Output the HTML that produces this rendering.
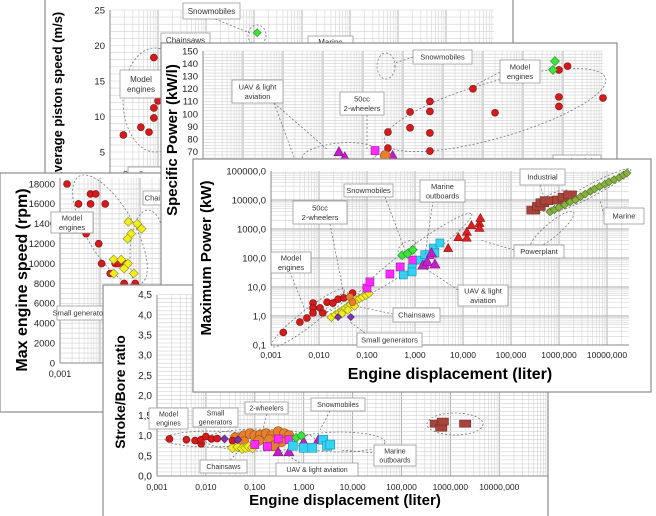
<!DOCTYPE html>
<html><head><meta charset="utf-8"><style>
html,body{margin:0;padding:0;background:#fff;}
svg{display:block;font-family:"Liberation Sans",sans-serif;}
</style></head><body>
<svg id="s" width="656" height="516" viewBox="0 0 656 516"></svg>
<script>
// ===== DATA =====
// Panel A: max average piston speed (m/s)
const A_model_x=[0.0019,0.0044,0.0065,0.0082,0.0082,0.0082,0.01];
const A_model_y=[7.4,8.5,7.8,18.3,11.2,9.8,12.2];
const A_snow_x=[1.16];
const A_snow_y=[21.8];
const A_yticks=[5,10,15,20,25];
// Panel B: specific power (kW/l)
const B_model_x=[42,42,150,150,470,470,470,470,5600,20000,790000,1300000,790000,790000,10000000];
const B_model_y=[85.7,73,101.6,89,110,102,85,70.6,120,101,135,138,113.5,106,112.7];
const B_snow_x=[630000,560000];
const B_snow_y=[142,135];
const B_uav_x=[2.5,3.5,55];
const B_uav_y=[70,66,67];
const B_sq_x=[20];
const B_sq_y=[71];
const B_orange_x=[36];
const B_orange_y=[67];
const B_yticks=[70,80,90,100,110,120,130,140,150];
// Panel C: max engine speed (rpm)
const C_model_x=[0.0015,0.0029,0.0058,0.0078,0.0058,0.0135,0.0045,0.0093,0.011,0.024,0.029,0.043,0.018,0.04,0.076];
const C_model_y=[18000,16000,17000,17000,16000,16000,13000,12000,10000,10000,10000,10000,9000,8000,8000];
const C_saw_x=[0.051,0.085,0.06,0.049,0.11,0.022,0.034,0.05,0.07,0.022,0.04];
const C_saw_y=[14200,14000,13000,12500,13500,10400,10400,10000,9000,9000,9500];
const C_yticks=[0,2000,4000,6000,8000,10000,12000,14000,16000,18000];
const C_ylabels=["0","2000","4000","6000","8000","10000","12000","1400","16000","18000"];
// Panel D: stroke/bore ratio
const D_model_x=[0.0018,0.004,0.006,0.008,0.008,0.01,0.013,0.017,0.035];
const D_model_y=[0.92,0.9,0.88,0.8,0.9,0.98,0.92,0.93,0.88];
const D_gen_x=[0.024,0.045];
const D_gen_y=[0.92,0.9];
const D_orange_x=[0.04,0.06,0.08,0.1,0.13,0.17,0.22,0.3,0.4,0.5,0.06,0.12,0.2,0.35,0.25];
const D_orange_y=[0.95,1.0,1.05,1.0,1.02,1.05,1.0,1.1,1.05,1.0,0.85,0.88,0.9,0.85,0.75];
const D_saw_x=[0.035,0.045,0.055,0.065,0.075,0.09];
const D_saw_y=[0.7,0.72,0.68,0.7,0.73,0.7];
const D_sq_x=[0.1,0.18,0.3,0.5];
const D_sq_y=[0.78,0.73,0.92,0.9];
const D_uav_x=[0.3,0.5,1,2];
const D_uav_y=[0.6,0.6,0.85,0.9];
const D_cyan_x=[0.6,1,1.5,2.5,3,3.5];
const D_cyan_y=[0.75,0.7,0.7,0.9,0.75,0.78];
const D_snow_x=[0.7,0.9];
const D_snow_y=[0.95,1.0];
const D_ind_x=[500,650,700,2000];
const D_ind_y=[1.3,1.2,1.35,1.3];
const D_yticks=[0,0.5,1,1.5,2,2.5,3,3.5,4,4.5];
const D_ylabels=["0,0","0,5","1,0","1,5","2,0","2,5","3,0","3,5","4,0","4,5"];
// Panel E: maximum power (kW)
const E_model_x=[0.0018,0.004,0.0056,0.0075,0.0075,0.0075,0.0105,0.012,0.0147,0.0195,0.025,0.033,0.05];
const E_model_y=[0.27,0.62,0.85,2.8,1.9,1.27,1.9,1.27,3,2.8,3.8,4.2,6.2];
const E_saw_x=[0.018,0.022,0.026,0.03,0.035,0.04,0.045,0.05,0.06,0.07,0.08,0.095,0.11,0.03,0.04,0.055];
const E_saw_y=[0.9,1.1,1.3,1.5,1.8,2.2,2.5,3,3.5,4,4.5,5.2,6,1.2,1.6,2.2];
const E_gen_x=[0.025,0.046];
const E_gen_y=[0.92,0.92];
const E_orange_x=[0.044,0.05];
const E_orange_y=[4.5,3];
const E_sq_x=[0.1,0.115,0.3,0.49,0.9,2,1.6];
const E_sq_y=[9.2,15,28,49,85,130,60];
const E_cyan_x=[0.57,0.87,1.3,1.6,2.4,3.3,0.87,2.6];
const E_cyan_y=[26,45,85,130,220,330,33,150];
const E_uav_x=[1.45,1.8,2.2,2.6];
const E_uav_y=[57,75,150,62];
const E_snow_x=[0.54,0.7,0.9];
const E_snow_y=[125,140,190];
const E_pp_x=[4.9,8,12,12,15,22,22,23];
const E_pp_y=[220,520,800,500,1350,1600,1100,2400];
const E_ind_x=[290,380,450,550,1000,1300,1700];
const E_ind_y=[4500,6000,8000,9500,10000,12500,15000];
const E_mar_x=[650,800,1000,1300,1700,2200,2800,3500,4500,5500,7000,9000,11000,14000,18000,22000,26000];
const E_mar_y=[3900,4600,5500,6800,8500,10000,13000,16000,20000,24000,29000,35000,42000,50000,60000,72000,85000];
const E_yticks=[0.1,1,10,100,1000,10000,100000];
const E_ylabels=["0,1","1,0","10,0","100,0","1000,0","10000,0","100000,0"];
const X_ticks=[0.001,0.01,0.1,1,10,100,1000,10000];
const X_labels=["0,001","0,010","0,100","1,000","10,000","100,000","1000,000","10000,000"];

// ===== HELPERS =====
const NS='http://www.w3.org/2000/svg';
const S=document.getElementById('s');
function mk(tag,parent){const e=document.createElementNS(NS,tag);parent.appendChild(e);return e;}
function at(e,o){for(const k in o)e.setAttribute(k,o[k]);return e;}
function lx(p,v){return p.x0+(Math.log10(v)+3)*p.dx;}
function ly(p,v){return p.log?p.y0-(Math.log10(v)+1)*p.dy:p.y0-v*p.dy;}

function panel(p,name){
  const g=mk('g',S);
  
  
  const r=mk('rect',g);at(r,{x:p.rx,y:p.ry,width:p.rw,height:p.rh,fill:'#fff',stroke:'#8c8c8c','stroke-width':1.2});
  
  
  const gg=mk('g',g);
  
  
  const right=p.xr||(p.x0+p.nd*p.dx);
  for(let d=0;d<Math.ceil(p.nd);d++){for(let m=1;m<10;m++){
    const x=p.x0+(d+Math.log10(m))*p.dx;
    if(x>right+0.5)continue;
    const l=mk('line',gg);at(l,{x1:x,x2:x,y1:p.top,y2:p.bot,stroke:m==1?'#a8a8a8':'#d4d4d4','stroke-width':m==1?0.9:0.6});
    
    
  }}
  if(p.log){for(let d=0;d<6;d++){for(let m=1;m<10;m++){
      const y=p.y0-(d+Math.log10(m))*p.dy;
      const l=mk('line',gg);at(l,{x1:p.x0,x2:right,y1:y,y2:y,stroke:m==1?'#a8a8a8':'#d4d4d4','stroke-width':m==1?0.9:0.6});
      
      
  }}}
  else{for(let v=p.gmin;v<=p.gmax+1e-9;v+=p.gstep){
      const y=p.y0-v*p.dy;
      const l=mk('line',gg);at(l,{x1:p.x0,x2:right,y1:y,y2:y,stroke:'#d0d0d0','stroke-width':0.6});
      
      
  }}
  const ax=mk('line',g);at(ax,{x1:p.x0,x2:p.x0,y1:p.top,y2:p.bot,stroke:'#888','stroke-width':1});
  
  
  const bx=mk('line',g);at(bx,{x1:p.x0,x2:right,y1:p.bot,y2:p.bot,stroke:'#888','stroke-width':1});
  
  
  return g;
}
function ytick(g,p,vals,labs,fs){
  vals.forEach((v,i)=>{
    const t=mk('text',g);at(t,{x:p.x0-5,y:ly(p,v)+fs*0.35,'font-size':fs,'text-anchor':'end',fill:'#222'});
    t.textContent=labs?labs[i]:String(v);
    
    
  });
}
function xtick(g,p,n,y,fs){
  for(let i=0;i<n;i++){
    const t=mk('text',g);at(t,{x:lx(p,X_ticks[i]),y:y,'font-size':fs,'text-anchor':'middle',fill:'#222'});
    t.textContent=X_labels[i];
    
    
  }
}
function title(g,txt,x,y,fs,rot,name){
  const t=mk('text',g);at(t,{x:x,y:y,'font-size':fs,'font-weight':'bold','text-anchor':'middle',fill:'#000'});
  if(rot)t.setAttribute('transform','rotate(-90 '+x+' '+y+')');
  t.textContent=txt;
  
  
}
function box(g,x,y,w,h,lines,fs,name){
  const r=mk('rect',g);at(r,{x:x,y:y,width:w,height:h,fill:'#fff',stroke:'#999','stroke-width':0.8});
  
  
  const lh=fs*1.25,y0=y+h/2-(lines.length-1)*lh/2+fs*0.35;
  lines.forEach((s,i)=>{
    const t=mk('text',g);at(t,{x:x+w/2,y:y0+i*lh,'font-size':fs,'text-anchor':'middle',fill:'#333'});
    t.textContent=s;
    
    
  });
}
function ell(g,cx,cy,rx,ry,rot){
  const e=mk('ellipse',g);at(e,{cx:cx,cy:cy,rx:rx,ry:ry,fill:'none',stroke:'#777','stroke-width':0.8,'stroke-dasharray':'2,2',transform:'rotate('+rot+' '+cx+' '+cy+')'});
  
  
}
function lead(g,x1,y1,x2,y2){
  const l=mk('line',g);at(l,{x1:x1,y1:y1,x2:x2,y2:y2,stroke:'#666','stroke-width':0.7,'stroke-dasharray':'2,2'});
  
  
}
const ST={
 red:['circle','#d41a1a','#7a1010'],yel:['diamond','#f2ee1c','#8a8a20'],pur:['diamond','#7a35a8','#4a1a70'],
 org:['circle','#e58030','#a05010'],mag:['square','#ff2aff','#a010a0'],cya:['square','#34d2f2','#1890b0'],
 uav:['triangle','#c21fc8','#801080'],grn:['diamond','#3ee33e','#1a901a'],pp:['triangle','#e02020','#901010'],
 ind:['rect','#a8443c','#702820'],mar:['diamond','#86b040','#507020']
};
function scatter(g,p,xs,ys,st,sz,name){
  const [shape,fill,stroke]=ST[st];
  for(let i=0;i<xs.length;i++){
    const x=lx(p,xs[i]),y=ly(p,ys[i]);let e;
    if(shape=='circle'){e=mk('circle',g);at(e,{cx:x,cy:y,r:sz});}
    else if(shape=='square'){e=mk('rect',g);at(e,{x:x-sz,y:y-sz,width:2*sz,height:2*sz});}
    else if(shape=='rect'){e=mk('rect',g);at(e,{x:x-sz*1.6,y:y-sz,width:3.2*sz,height:2*sz});}
    else if(shape=='diamond'){e=mk('polygon',g);at(e,{points:[x,y-sz-1,x+sz+1,y,x,y+sz+1,x-sz-1,y].join(',')});}
    else {e=mk('polygon',g);at(e,{points:[x,y-sz-1,x+sz+1,y+sz,x-sz-1,y+sz].join(',')});}
    at(e,{fill:fill,stroke:stroke,'stroke-width':0.6});
    
    
  }
}

// ===== PANEL A =====
const PA={rx:45,ry:-1,rw:468,rh:320,x0:110,dx:48,nd:8,top:10,bot:300,y0:187.5,dy:7.1,gmin:0,gmax:25,gstep:1};
const gA=panel(PA,'piston-speed-chart');
ytick(gA,PA,A_yticks,null,9.5);
title(gA,'Max average piston speed (m/s)',62,110,13,true,'y-axis-title-piston-speed');
ell(gA,155,100,32,52,0);ell(gA,257,35,9,10,0);
lead(gA,215,19,250,33);
scatter(gA,PA,A_model_x,A_model_y,'red',3.5,'point-model-engines');
scatter(gA,PA,A_snow_x,A_snow_y,'grn',3,'point-snowmobiles');
box(gA,183,3,57,16,['Snowmobiles'],8,'label-snowmobiles');
box(gA,161,33,49,14,['Chainsaws'],8,'label-chainsaws');
box(gA,120,70,42,28,['Model','engines'],8,'label-model-engines');
box(gA,308,36,45,12,['Marine'],8,'label-marine');
box(gA,128,167,50,14,['Small generators'],8,'label-small-generators');

// ===== PANEL C =====
const PC={rx:0,ry:173,rw:210,rh:239,x0:60,dx:40,nd:5,top:178,bot:363,y0:363,dy:179/18000,gmin:0,gmax:18000,gstep:500};
const gC=panel(PC,'engine-speed-chart');
ytick(gC,PC,C_yticks,C_ylabels,9.5);
xtick(gC,PC,1,377,9);
title(gC,'Max engine speed (rpm)',27,280,16,true,'y-axis-title-engine-speed');
ell(gC,110,230,24,62,-30);ell(gC,148,255,18,45,0);
scatter(gC,PC,C_model_x,C_model_y,'red',3.5,'point-model-engines');
scatter(gC,PC,C_saw_x,C_saw_y,'yel',3.5,'point-chainsaws');
box(gC,51,212,42,21,['Model','engines'],7.5,'label-model-engines');
box(gC,57,306,48,14,['Small generators'],7.5,'label-small-generators');
box(gC,143,191,40,14,['Chainsaws'],7.5,'label-chainsaws');
box(gC,180,289,40,14,['Marine'],7.5,'label-marine');

// ===== PANEL B =====
const PB={rx:161,ry:43,rw:456,rh:280,x0:203,dx:40,nd:10,top:51,bot:320,y0:240,dy:1.26,gmin:0,gmax:150,gstep:2.5};
const gB=panel(PB,'specific-power-chart');
ytick(gB,PB,B_yticks,null,9.5);
title(gB,'Specific Power (kW/l)',177,140,15,true,'y-axis-title-specific-power');
ell(gB,495,110,115,28,-16);ell(gB,386,66,9,13,0);ell(gB,340,155,38,12,-5);
lead(gB,274,103,328,150);lead(gB,274,103,295,160);lead(gB,367,115,367,150);lead(gB,413,57,395,63);lead(gB,500,72,470,88);
scatter(gB,PB,B_model_x,B_model_y,'red',3.5,'point-model-engines');
scatter(gB,PB,B_snow_x,B_snow_y,'grn',3.5,'point-snowmobiles');
scatter(gB,PB,B_uav_x,B_uav_y,'uav',4,'point-uav');
scatter(gB,PB,B_sq_x,B_sq_y,'mag',4,'point-2-wheelers');
scatter(gB,PB,B_orange_x,B_orange_y,'org',5,'point-50cc');
box(gB,232,80,51,23,['UAV & light','aviation'],7.5,'label-uav');
box(gB,340,92,44,23,['50cc','2-wheelers'],7.5,'label-50cc');
box(gB,413,50,59,14,['Snowmobiles'],7.5,'label-snowmobiles');
box(gB,500,60,40,23,['Model','engines'],7.5,'label-model-engines');
box(gB,553,155,48,12,['Industrial'],7.5,'label-industrial');

// ===== PANEL D =====
const PD={rx:103,ry:285,rw:445,rh:240,x0:157,dx:48.9,nd:8,top:295,bot:476,y0:476,dy:40.3,gmin:0,gmax:4.5,gstep:0.1};
const gD=panel(PD,'stroke-bore-chart');
ytick(gD,PD,D_yticks,D_ylabels,10);
xtick(gD,PD,8,490,8.5);
title(gD,'Stroke/Bore ratio',125,392,14,true,'y-axis-title-stroke-bore');
title(gD,'Engine displacement (liter)',345,505,15,false,'x-axis-title-displacement');
ell(gD,210,439,45,8,0);ell(gD,260,440,55,11,0);ell(gD,340,442,45,10,0);ell(gD,455,424,28,11,0);
scatter(gD,PD,D_orange_x,D_orange_y,'org',5,'point-2-wheelers');
scatter(gD,PD,D_saw_x,D_saw_y,'yel',4,'point-chainsaws');
scatter(gD,PD,D_model_x,D_model_y,'red',3.5,'point-model-engines');
scatter(gD,PD,D_gen_x,D_gen_y,'pur',3,'point-small-generators');
scatter(gD,PD,D_sq_x,D_sq_y,'mag',4,'point-uav-square');
scatter(gD,PD,D_uav_x,D_uav_y,'uav',4,'point-uav');
scatter(gD,PD,D_cyan_x,D_cyan_y,'cya',4.5,'point-marine-outboards');
scatter(gD,PD,D_snow_x,D_snow_y,'grn',3.5,'point-snowmobiles');
scatter(gD,PD,D_ind_x,D_ind_y,'ind',3.5,'point-industrial');
lead(gD,267,414,262,433);lead(gD,330,411,320,430);lead(gD,400,455,340,450);lead(gD,230,460,240,450);lead(gD,300,463,282,452);
box(gD,149,408,39,21,['Model','engines'],7,'label-model-engines');
box(gD,193,408,45,19,['Small','generators'],7,'label-small-generators');
box(gD,245,402,43,12,['2-wheelers'],7,'label-2-wheelers');
box(gD,311,398,54,13,['Snowmobiles'],7,'label-snowmobiles');
box(gD,200,460,47,13,['Chainsaws'],7,'label-chainsaws');
box(gD,276,463,82,13,['UAV & light aviation'],7,'label-uav');
box(gD,374,445,42,21,['Marine','outboards'],7,'label-marine-outboards');

// ===== PANEL E =====
const PE={rx:193,ry:159,rw:458,rh:233,x0:271,dx:48,nd:8,xr:629,top:171,bot:345,y0:345,dy:29,log:true};
const gE=panel(PE,'max-power-chart');
ytick(gE,PE,E_yticks,E_ylabels,9.5);
xtick(gE,PE,8,358,8.5);
title(gE,'Maximum Power (kW)',211,258,15,true,'y-axis-title-max-power');
title(gE,'Engine displacement (liter)',450,379,16,false,'x-axis-title-displacement');
ell(gE,308,318,46,8,-38);ell(gE,337,302,14,4,-40);ell(gE,415,255,70,9,-36);ell(gE,407,247,10,5,-30);
ell(gE,552,230,28,7,-40);ell(gE,549,202,22,6,-30);ell(gE,592,190,44,6,-28);
scatter(gE,PE,E_model_x,E_model_y,'red',3.5,'point-model-engines');
scatter(gE,PE,E_saw_x,E_saw_y,'yel',3.3,'point-chainsaws');
scatter(gE,PE,E_gen_x,E_gen_y,'pur',2.5,'point-small-generators');
scatter(gE,PE,E_orange_x,E_orange_y,'org',3.5,'point-50cc');
scatter(gE,PE,E_sq_x,E_sq_y,'mag',4,'point-2-wheelers');
scatter(gE,PE,E_cyan_x,E_cyan_y,'cya',4,'point-marine-outboards');
scatter(gE,PE,E_uav_x,E_uav_y,'uav',4,'point-uav');
scatter(gE,PE,E_snow_x,E_snow_y,'grn',3.5,'point-snowmobiles');
scatter(gE,PE,E_pp_x,E_pp_y,'pp',3.5,'point-powerplant');
scatter(gE,PE,E_ind_x,E_ind_y,'ind',4,'point-industrial');
scatter(gE,PE,E_mar_x,E_mar_y,'mar',3,'point-marine');
lead(gE,290,272,305,310);lead(gE,330,224,345,300);lead(gE,385,197,405,250);lead(gE,433,201,425,255);
lead(gE,514,250,480,240);lead(gE,458,290,420,265);lead(gE,393,314,360,307);lead(gE,365,333,350,322);
lead(gE,540,185,545,200);lead(gE,604,215,600,200);
box(gE,520,169,45,16,['Industrial'],7.5,'label-industrial');
box(gE,604,208,40,16,['Marine'],7.5,'label-marine');
box(gE,514,245,50,13,['Powerplant'],7.5,'label-powerplant');
box(gE,344,184,49,13,['Snowmobiles'],7.5,'label-snowmobiles');
box(gE,420,180,45,22,['Marine','outboards'],7.5,'label-marine-outboards');
box(gE,293,201,54,23,['50cc','2-wheelers'],7.5,'label-50cc');
box(gE,271,252,40,21,['Model','engines'],7.5,'label-model-engines');
box(gE,458,285,50,21,['UAV & light','aviation'],7.5,'label-uav');
box(gE,393,308,47,14,['Chainsaws'],7.5,'label-chainsaws');
box(gE,357,333,65,14,['Small generators'],7.5,'label-small-generators');
</script>
</body></html>
